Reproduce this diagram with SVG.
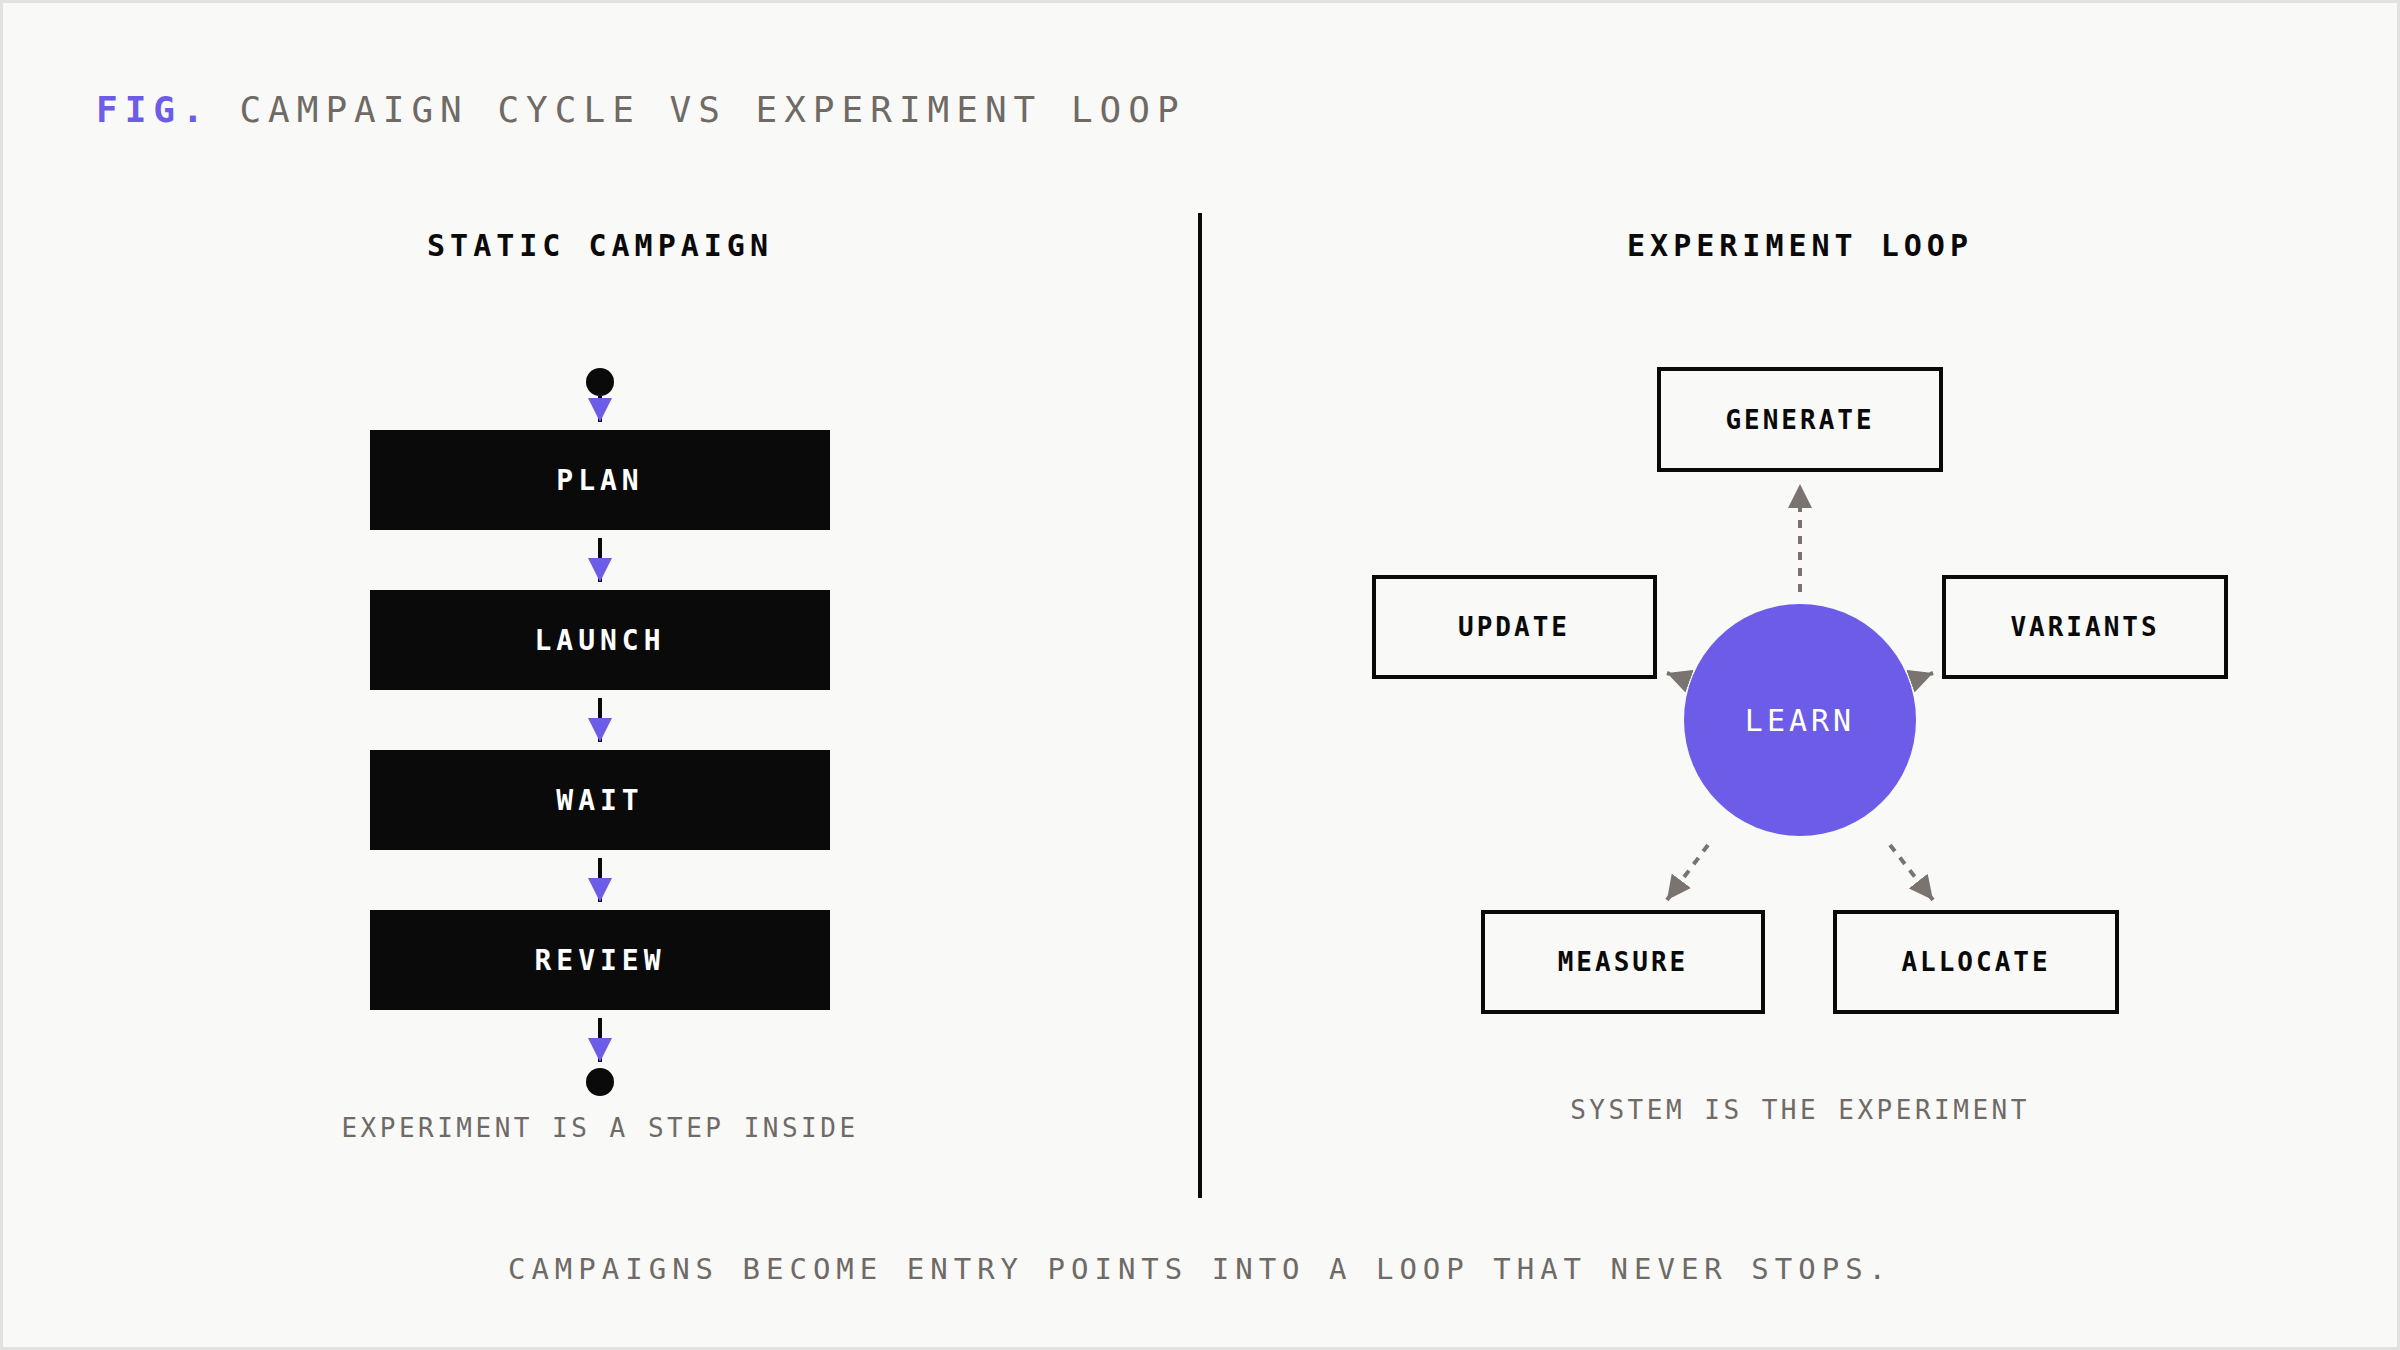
<svg xmlns="http://www.w3.org/2000/svg" width="2400" height="1350" viewBox="0 0 2400 1350">
<defs>
<style>
text{font-family:"DejaVu Sans Mono","Liberation Mono",monospace;}
.h{font-size:30px;font-weight:bold;fill:#0a0a0a;letter-spacing:5px;text-anchor:middle}
.dk{font-size:28px;fill:#fff;letter-spacing:5px;text-anchor:middle;font-weight:bold}
.bx{fill:none;stroke:#0a0a0a;stroke-width:4}
.bl{font-size:26px;font-weight:bold;fill:#0a0a0a;letter-spacing:3px;text-anchor:middle}
.cap{font-size:26px;fill:#6f6a66;letter-spacing:3.5px;text-anchor:middle}
.blk{fill:#0a0a0a}
.sl{stroke:#0a0a0a;stroke-width:4;fill:none}
.dl{stroke:#7a7470;stroke-width:4;fill:none;stroke-dasharray:8 8}
</style>
<marker id="pa" markerUnits="userSpaceOnUse" markerWidth="26" markerHeight="24" refX="24" refY="12" orient="auto"><path d="M0,0 L24,12 L0,24Z" fill="#6c5ce7"/></marker>
<marker id="ga" markerUnits="userSpaceOnUse" markerWidth="26" markerHeight="24" refX="24" refY="12" orient="auto"><path d="M0,0 L24,12 L0,24Z" fill="#7a7470"/></marker>
</defs>
<rect x="0" y="0" width="2400" height="1350" fill="#f9f9f7"/>
<rect x="1.5" y="1.5" width="2397" height="1347" fill="none" stroke="#e2e2e0" stroke-width="3"/>
<text x="96" y="122" font-size="36" letter-spacing="7" fill="#6f6a66"><tspan fill="#6c5ce7" font-weight="bold">FIG.</tspan> CAMPAIGN CYCLE VS EXPERIMENT LOOP</text>
<text class="h" x="600" y="256">STATIC CAMPAIGN</text>
<text class="h" x="1800" y="256">EXPERIMENT LOOP</text>
<line x1="1200" y1="213" x2="1200" y2="1198" stroke="#0a0a0a" stroke-width="4"/>
<g id="connectors">
<line class="sl" x1="600" y1="396" x2="600" y2="422" marker-end="url(#pa)"/>
<line class="sl" x1="600" y1="538" x2="600" y2="582" marker-end="url(#pa)"/>
<line class="sl" x1="600" y1="698" x2="600" y2="742" marker-end="url(#pa)"/>
<line class="sl" x1="600" y1="858" x2="600" y2="902" marker-end="url(#pa)"/>
<line class="sl" x1="600" y1="1018" x2="600" y2="1062" marker-end="url(#pa)"/>
<line class="dl" x1="1800" y1="592" x2="1800" y2="484" marker-end="url(#ga)"/>
<line class="dl" x1="1700" y1="685" x2="1667" y2="673" marker-end="url(#ga)"/>
<line class="dl" x1="1900" y1="685" x2="1933" y2="673" marker-end="url(#ga)"/>
<line class="dl" x1="1708" y1="845" x2="1667" y2="900" marker-end="url(#ga)"/>
<line class="dl" x1="1890" y1="845" x2="1933" y2="900" marker-end="url(#ga)"/>
</g>
<g id="start"><circle class="blk" cx="600" cy="382" r="14"/></g>
<g id="plan"><rect class="blk" x="370" y="430" width="460" height="100"/><text class="dk" x="600" y="490">PLAN</text></g>
<g id="launch"><rect class="blk" x="370" y="590" width="460" height="100"/><text class="dk" x="600" y="650">LAUNCH</text></g>
<g id="wait"><rect class="blk" x="370" y="750" width="460" height="100"/><text class="dk" x="600" y="810">WAIT</text></g>
<g id="review"><rect class="blk" x="370" y="910" width="460" height="100"/><text class="dk" x="600" y="970">REVIEW</text></g>
<g id="end"><circle class="blk" cx="600" cy="1082" r="14"/></g>
<text class="cap" x="600" y="1137">EXPERIMENT IS A STEP INSIDE</text>
<g id="generate"><rect class="bx" x="1659" y="369" width="282" height="101"/><text class="bl" x="1800" y="429">GENERATE</text></g>
<g id="update"><rect class="bx" x="1374" y="577" width="281" height="100"/><text class="bl" x="1514" y="636">UPDATE</text></g>
<g id="variants"><rect class="bx" x="1944" y="577" width="282" height="100"/><text class="bl" x="2085" y="636">VARIANTS</text></g>
<g id="measure"><rect class="bx" x="1483" y="912" width="280" height="100"/><text class="bl" x="1623" y="971">MEASURE</text></g>
<g id="allocate"><rect class="bx" x="1835" y="912" width="282" height="100"/><text class="bl" x="1976" y="971">ALLOCATE</text></g>
<g id="learn"><circle cx="1800" cy="720" r="116" fill="#6c5ce7"/><text x="1800" y="731" font-size="30" fill="#fff" letter-spacing="4" text-anchor="middle">LEARN</text></g>
<text class="cap" x="1800" y="1119">SYSTEM IS THE EXPERIMENT</text>
<text x="1200" y="1279" font-size="29" fill="#6f6a66" letter-spacing="6" text-anchor="middle">CAMPAIGNS BECOME ENTRY POINTS INTO A LOOP THAT NEVER STOPS.</text>
</svg>
